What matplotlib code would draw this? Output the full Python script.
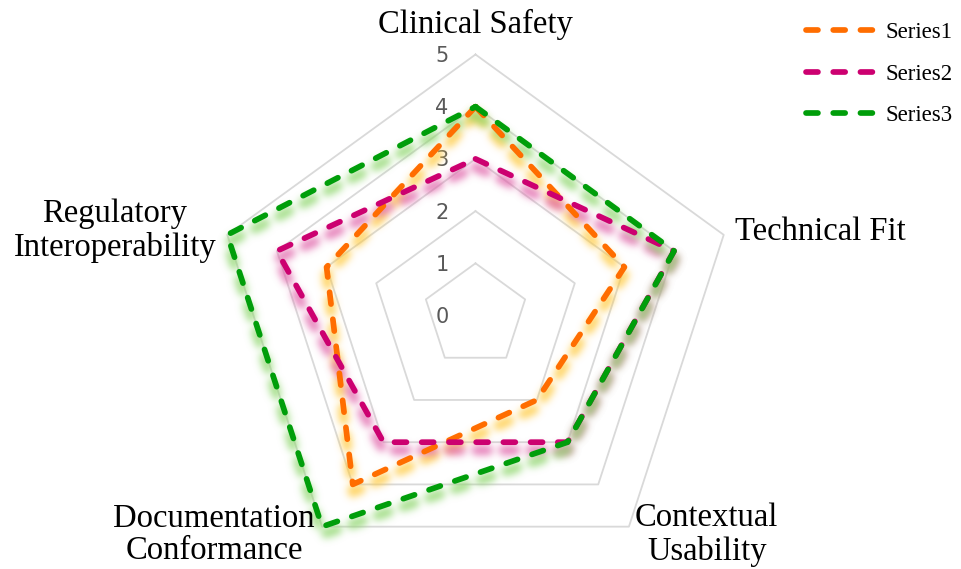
import numpy as np
import matplotlib
matplotlib.use("Agg")
import matplotlib.pyplot as plt
from matplotlib.lines import Line2D

categories = ["Clinical Safety", "Technical Fit", "Contextual\nUsability",
              "Documentation\nConformance", "Regulatory\nInteroperability"]
series_names = ["Series1", "Series2", "Series3"]
series1 = [4, 3, 2, 4, 3]
series2 = [3, 4, 3, 3, 4]
series3 = [4, 4, 3, 5, 5]
levels = [0, 1, 2, 3, 4, 5]

line_colors = ["#FF6D00", "#CC0070", "#009E0A"]
glow_colors = ["#FFC93A", "#E060A8", "#8CD66A"]

W, H, DPI = 962, 569, 100
cx, cy, unit = 475.5, 315.5, 52.2   # centre and px per unit

plt.rcParams["lines.scale_dashes"] = False


class Glow:
    """agg filter: soft blurred copy of the artist, shifted downwards"""

    def __init__(self, color, sigma=3.8, shift=8, alpha=0.8):
        self.rgb = matplotlib.colors.to_rgb(color)
        self.sigma = sigma
        self.shift = shift
        self.alpha = alpha

    def __call__(self, im, dpi):
        r = int(3 * self.sigma)
        k = np.exp(-np.arange(-r, r + 1) ** 2 / (2 * self.sigma ** 2))
        k /= k.sum()
        pad = r + self.shift + 2
        h, w, _ = im.shape
        a = np.zeros((h + 2 * pad, w + 2 * pad))
        a[pad + self.shift:pad + self.shift + h, pad:pad + w] = im[:, :, 3]
        b = np.zeros_like(a)
        for i, kv in enumerate(k):
            b += kv * np.roll(a, i - r, axis=0)
        c = np.zeros_like(a)
        for i, kv in enumerate(k):
            c += kv * np.roll(b, i - r, axis=1)
        out = np.empty((a.shape[0], a.shape[1], 4))
        out[:, :, :3] = self.rgb
        out[:, :, 3] = np.clip(c * self.alpha, 0, 1)
        return out, -pad, -pad


fig = plt.figure(figsize=(W / DPI, H / DPI), dpi=DPI)
ax = fig.add_axes([0, 0, 1, 1])
ax.set_xlim(-cx / unit, (W - cx) / unit)
ax.set_ylim(-(H - cy) / unit, cy / unit)
ax.axis("off")

n = len(categories)
angles = np.deg2rad(90 - 72 * np.arange(n))
ca, sa = np.cos(angles), np.sin(angles)

# pentagon grid
for lv in levels[1:]:
    ax.plot(np.append(lv * ca, lv * ca[0]), np.append(lv * sa, lv * sa[0]),
            color="#D9D9D9", lw=1.3, zorder=1)

for lv in levels:
    ax.text(-0.64, lv - 0.03, str(lv), ha="center", va="center",
            fontsize=15, color="#595959", family="DejaVu Sans", zorder=2)

dash = (8.6, 11.0)
for vals, lc, gc in zip([series1, series2, series3], line_colors, glow_colors):
    v = np.array(vals + vals[:1], dtype=float)
    xs = v * np.append(ca, ca[0])
    ys = v * np.append(sa, sa[0])
    g, = ax.plot(xs, ys, color=gc, lw=7, ls=(0, dash),
                 dash_capstyle="round", solid_joinstyle="round", zorder=3)
    g.set_agg_filter(Glow(gc))
    g.set_rasterized(True)

for vals, lc in zip([series1, series2, series3], line_colors):
    v = np.array(vals + vals[:1], dtype=float)
    ax.plot(v * np.append(ca, ca[0]), v * np.append(sa, sa[0]), color=lc,
            lw=4.1, ls=(0, dash), dash_capstyle="round",
            solid_joinstyle="round", zorder=5)

# category labels
lab_pos = [(0.0, 5.57, "center"), (4.97, 1.60, "left"), (4.43, -4.20, "center"),
           (-5.01, -4.20, "center"), (-6.91, 1.62, "center")]
for name, (lx, ly, ha) in zip(categories, lab_pos):
    ax.text(lx, ly, name, ha=ha, va="center", multialignment="center",
            fontsize=23.5, family="Liberation Serif", color="black",
            linespacing=1.1, zorder=6)

handles = [Line2D([], [], color=c, lw=4.1, ls=(0, dash), dash_capstyle="round")
           for c in line_colors]
fig.legend(handles, series_names, loc="upper left",
           bbox_to_anchor=(806 / W, 1 - 22 / H), frameon=False,
           prop={"family": "Liberation Serif", "size": 16.5},
           handlelength=3.0, handletextpad=0.45, labelspacing=0.9,
           borderpad=0, borderaxespad=0)

fig.savefig("out.png", dpi=DPI)
